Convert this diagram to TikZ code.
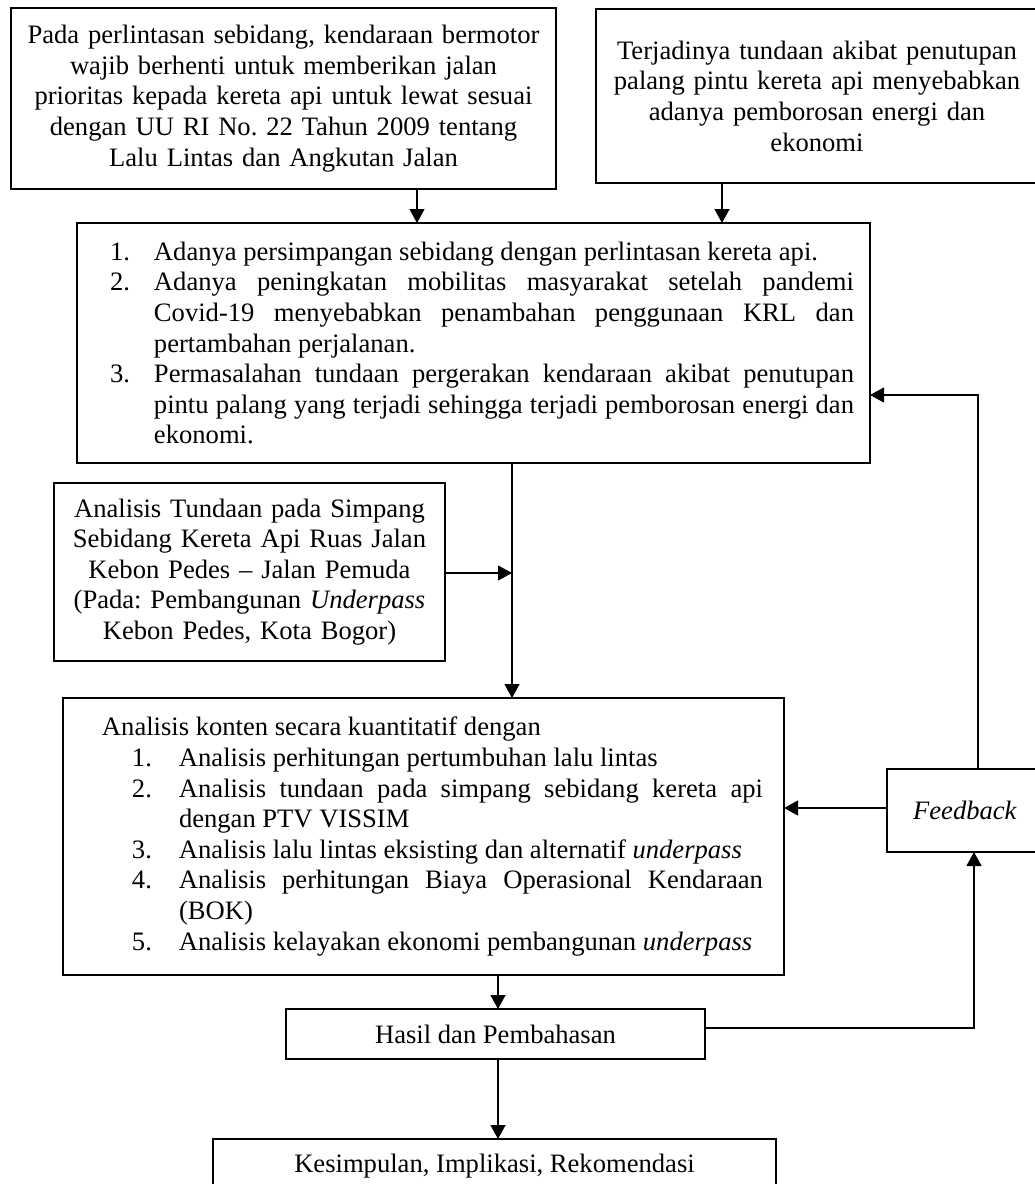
\documentclass[tikz,border=0pt]{standalone}
\usepackage{fontspec}
\setmainfont{Liberation Serif}
\usetikzlibrary{arrows.meta,calc}
\tikzset{
  box/.style={draw, line width=1.2pt, inner sep=0pt, outer sep=0pt},
  arr/.style={line width=1.2pt, -{Triangle[length=14pt,width=15pt]}}
}
\newcommand{\numbox}[2]{\noindent\llap{\makebox[#1][l]{#2}}}
\begin{document}
\begin{tikzpicture}[x=1pt,y=-1pt,font=\fontsize{26.6}{30.6}\selectfont\frenchspacing]
\useasboundingbox (0,0) rectangle (1035,1184);
\hyphenpenalty=10000 \exhyphenpenalty=10000
% top-left box
\node[box, anchor=north west, minimum width=545pt, minimum height=181pt, text width=545pt, align=center] (A) at (11,8)
 {Pada perlintasan sebidang, kendaraan bermotor\\ wajib berhenti untuk memberikan jalan\\ prioritas kepada kereta api untuk lewat sesuai\\ dengan UU RI No. 22 Tahun 2009 tentang\\ Lalu Lintas dan Angkutan Jalan};
% top-right box
\node[box, anchor=north west, minimum width=442pt, minimum height=174pt, text width=442pt, align=center] (B) at (596,9)
 {Terjadinya tundaan akibat penutupan\\ palang pintu kereta api menyebabkan\\ adanya pemborosan energi dan\\ ekonomi};
% main problem box
\node[box, anchor=north west, minimum width=793pt, minimum height=240pt, text width=793pt] (M) at (77,223)
 {\parindent=0pt\leftskip=77pt\rightskip=16pt\parfillskip=0pt plus 1fil
  \spaceskip=0.25em plus 0.3em minus 0.1em
  \numbox{44pt}{1.}Adanya persimpangan sebidang dengan perlintasan kereta api.\par
  \numbox{44pt}{2.}Adanya peningkatan mobilitas masyarakat setelah pandemi\linebreak Covid-19 menyebabkan penambahan penggunaan KRL dan\linebreak pertambahan perjalanan.\par
  \numbox{44pt}{3.}Permasalahan tundaan pergerakan kendaraan akibat penutupan\linebreak pintu palang yang terjadi sehingga terjadi pemborosan energi dan\linebreak ekonomi.\par};
% title box
\node[box, anchor=north west, minimum width=391pt, minimum height=178pt, text width=391pt, align=center] (C) at (54,483)
 {Analisis Tundaan pada Simpang\\ Sebidang Kereta Api Ruas Jalan\\ Kebon Pedes -- Jalan Pemuda\\ (Pada: Pembangunan \textit{Underpass}\\ Kebon Pedes, Kota Bogor)};
% analysis box
\node[box, anchor=north west, minimum width=721pt, minimum height=277pt, text width=721pt] (D) at (63,698)
 {\parindent=0pt\rightskip=21pt\parfillskip=0pt plus 1fil
  \spaceskip=0.25em plus 0.4em minus 0.1em
  \leftskip=39pt Analisis konten secara kuantitatif dengan\par
  \leftskip=116pt
  \numbox{47pt}{1.}Analisis perhitungan pertumbuhan lalu lintas\par
  \numbox{47pt}{2.}Analisis tundaan pada simpang sebidang kereta api\linebreak dengan PTV VISSIM\par
  \numbox{47pt}{3.}Analisis lalu lintas eksisting dan alternatif \textit{underpass}\par
  \numbox{47pt}{4.}Analisis perhitungan Biaya Operasional Kendaraan\linebreak (BOK)\par
  \numbox{47pt}{5.}Analisis kelayakan ekonomi pembangunan \textit{underpass}\par};
% feedback box
\node[box, minimum width=156pt, minimum height=83pt] (F) at (965,810.5) {\textit{Feedback}};
% results box
\node[box, anchor=north west, minimum width=419pt, minimum height=50pt] (H) at (286,1009) {Hasil dan Pembahasan};
% conclusion box
\node[box, anchor=north west, minimum width=563pt, minimum height=54pt] (K) at (213,1139) {Kesimpulan, Implikasi, Rekomendasi};
% helper coordinates
\coordinate (xA) at (417,0);
\coordinate (xB) at (722,0);
\coordinate (xMD) at (512,0);
\coordinate (xDH) at (498,0);
\coordinate (xF) at (978,0);
\coordinate (xH) at (974,0);
\coordinate (yFM) at (0,395);
\coordinate (yC) at (0,573);
\coordinate (yFD) at (0,808);
\coordinate (yHF) at (0,1028);
\coordinate (J) at (yC -| xMD);
% connectors
\draw[arr] (A.south -| xA) -- (M.north -| xA);
\draw[arr] (B.south -| xB) -- (M.north -| xB);
\draw[arr] (M.south -| xMD) -- (D.north -| xMD);
\draw[arr] (C.east |- yC) -- (J);
\draw[arr] (F.west |- yFD) -- (D.east |- yFD);
\draw[arr] (F.north -| xF) |- (M.east |- yFM);
\draw[arr] (H.east |- yHF) -| (F.south -| xH);
\draw[arr] (D.south -| xDH) -- (H.north -| xDH);
\draw[arr] (H.south -| xDH) -- (K.north -| xDH);
\end{tikzpicture}
\end{document}
